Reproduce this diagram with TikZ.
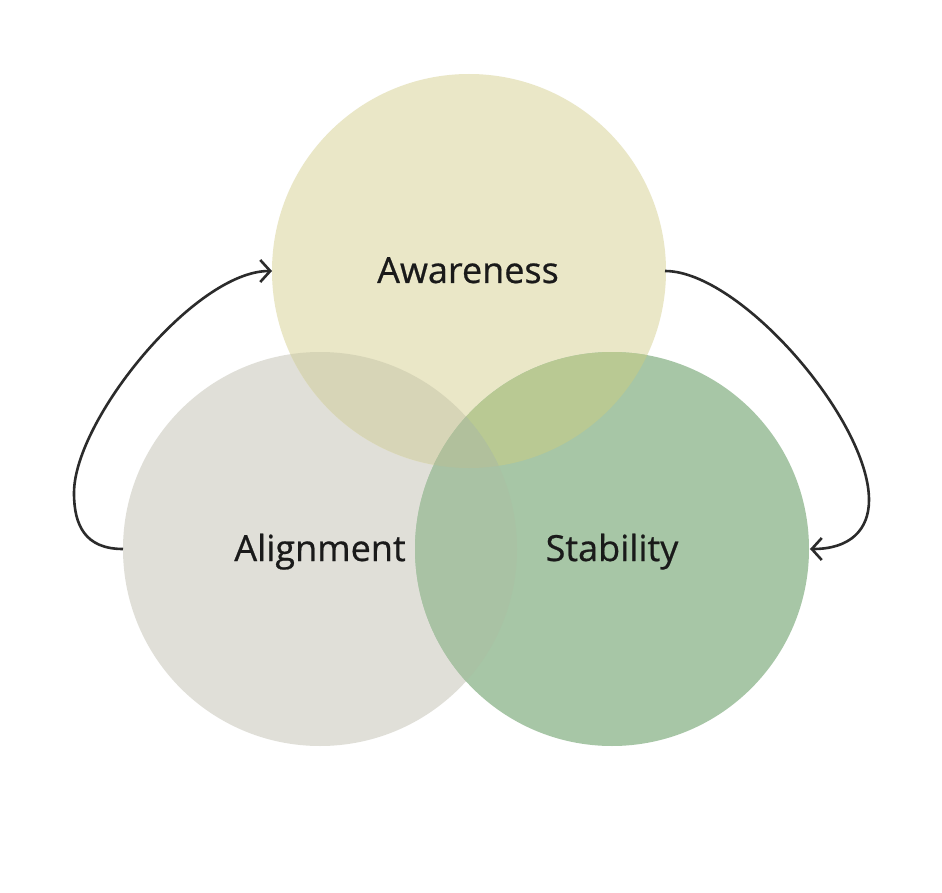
\documentclass[tikz,border=0pt]{standalone}
\usepackage{fontspec}
\setmainfont[FakeBold=0.6]{Open Sans}
\usetikzlibrary{arrows.meta}
\definecolor{cAw}{HTML}{EAE7C7}
\definecolor{cAl}{HTML}{E0DFD8}
\definecolor{cSt}{HTML}{A7C6A6}
\definecolor{cAwAl}{HTML}{D7D5B7}
\definecolor{cAwSt}{HTML}{B9C993}
\definecolor{cAlSt}{HTML}{A9C2A4}
\definecolor{cAll}{HTML}{B1C09C}
\definecolor{cLine}{HTML}{2B2B2B}
\definecolor{cText}{HTML}{1A1A1A}
\tikzset{
  label/.style={font=\fontsize{36}{42}\selectfont, text=cText, anchor=base, inner sep=0pt},
  loop/.style={draw=cLine, line width=2.6pt, -{Straight Barb[length=10pt, width=22pt, line width=2.6pt]}},
}
\begin{document}
\begin{tikzpicture}[x=1pt,y=-1pt]
\useasboundingbox (0,0) rectangle (942,893);
\fill[white] (0,0) rectangle (942,893);
\coordinate (cAwc) at (469,271);
\coordinate (cAlc) at (320,549);
\coordinate (cStc) at (612,549);
\def\R{197}
% single circles
\fill[cAl] (cAlc) circle (\R);
\fill[cAw] (cAwc) circle (\R);
\fill[cSt] (cStc) circle (\R);
% pairwise overlaps
\begin{scope}
  \clip (cAwc) circle (\R);
  \fill[cAwAl] (cAlc) circle (\R);
\end{scope}
\begin{scope}
  \clip (cAwc) circle (\R);
  \fill[cAwSt] (cStc) circle (\R);
\end{scope}
\begin{scope}
  \clip (cAlc) circle (\R);
  \fill[cAlSt] (cStc) circle (\R);
\end{scope}
\begin{scope}
  \clip (cAwc) circle (\R);
  \clip (cAlc) circle (\R);
  \fill[cAll] (cStc) circle (\R);
\end{scope}
% named anchor points on the circles
\coordinate (AwW) at (272,271);
\coordinate (AwE) at (665,271);
\coordinate (AlW) at (123,549);
\coordinate (StE) at (810,549);
% labels
\node[label] (aw) at (468,283) {Awareness};
\node[label] (al) at (320,561) {Alignment};
\node[label] (st) at (612,561) {Stability};
% connectors
\draw[loop] (AlW) .. controls (85,549) and (74,525) .. (74,493)
  .. controls (74,420) and (195,271) .. (AwW);
\draw[loop] (AwE) .. controls (740,271) and (869,420) .. (869,500)
  .. controls (869,530) and (850,549) .. (StE);
\end{tikzpicture}
\end{document}
